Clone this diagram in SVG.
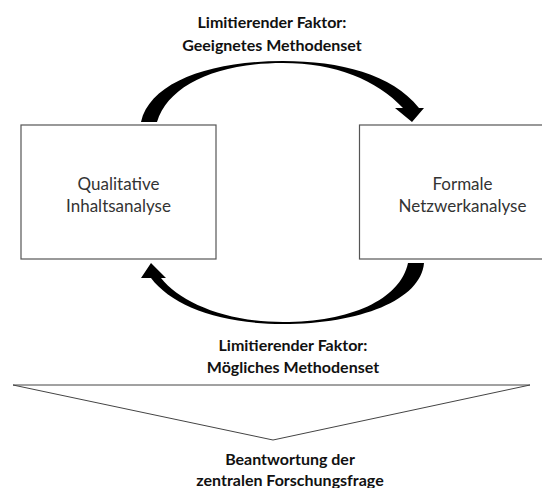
<svg xmlns="http://www.w3.org/2000/svg" width="542" height="488" viewBox="0 0 542 488">
  <style>
    .box { fill: #ffffff; stroke: #555555; stroke-width: 1.2; }
    .node-label { font-family: Lato, "Open Sans", "Liberation Sans", sans-serif; font-size: 17px; fill: #333333; text-anchor: middle; }
    .factor { font-family: Lato, "Open Sans", "Liberation Sans", sans-serif; font-size: 16px; font-weight: bold; fill: #111111; text-anchor: middle; }
    .flow { fill: #000000; stroke: none; }
    .funnel { fill: #ffffff; stroke: #444444; stroke-width: 1; }
  </style>
  <rect width="542" height="488" fill="#ffffff"/>

  <!-- upper label -->
  <g id="label-top">
    <text class="factor" x="272" y="28">Limitierender Faktor:</text>
    <text class="factor" x="272" y="51">Geeignetes Methodenset</text>
  </g>

  <!-- curved arrows between the two methods -->
  <g id="connectors">
    <path class="flow" d="M141,122 C150,82 210,61 283,61 C340,61 392,74 419,108 L424,108 L412,122 L395,108 L403,108 C377,80 335,63 283,63 C215,63 168,86 157,122 Z"/>
    <path class="flow" d="M424,263 C421,300 360,324 283,324 C220,324 172,306 151,278 L141,278 L151,263 L166,278 L161,278 C180,302 225,322 283,322 C350,322 400,300 408,263 Z"/>
  </g>

  <g id="node-qualitative">
    <rect class="box" x="21" y="125" width="195" height="134"/>
    <text class="node-label" x="118.5" y="190">Qualitative</text>
    <text class="node-label" x="118.5" y="212">Inhaltsanalyse</text>
  </g>

  <g id="node-formal">
    <rect class="box" x="359.5" y="125" width="207" height="134"/>
    <text class="node-label" x="462.5" y="190">Formale</text>
    <text class="node-label" x="462.5" y="212">Netzwerkanalyse</text>
  </g>

  <!-- lower label -->
  <g id="label-bottom">
    <text class="factor" x="293" y="351">Limitierender Faktor:</text>
    <text class="factor" x="293" y="373">Mögliches Methodenset</text>
  </g>

  <!-- funnel towards the research question -->
  <g id="node-result">
    <polygon class="funnel" points="13,385 530,385 273,440"/>
    <text class="factor" x="290" y="465">Beantwortung der</text>
    <text class="factor" x="290" y="486">zentralen Forschungsfrage</text>
  </g>
</svg>
